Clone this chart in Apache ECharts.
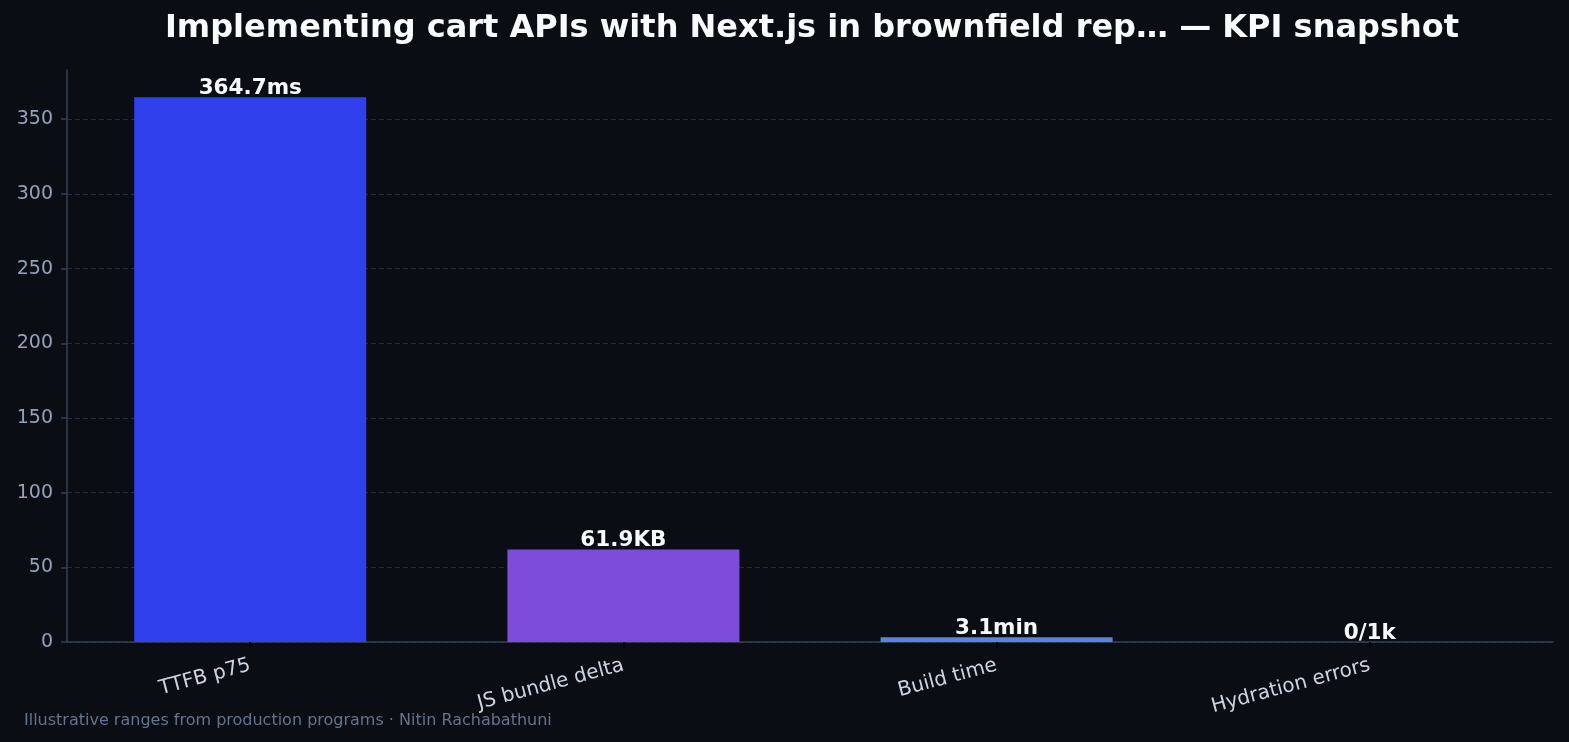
<!DOCTYPE html>
<html>
<head>
<meta charset="utf-8">
<script src="https://cdn.jsdelivr.net/npm/echarts@6/dist/echarts.min.js"></script>
<style>
  html, body { margin: 0; padding: 0; background: #0a0d14; }
  #chart { width: 1569px; height: 742px; }
</style>
</head>
<body>
<div id="chart"></div>
<script>
const categories = ["TTFB p75", "JS bundle delta", "Build time", "Hydration errors"];
const values = [364.7, 61.9, 3.1, 0];
const valueLabels = ["364.7ms", "61.9KB", "3.1min", "0/1k"];
const barColors = ["#2f40ec", "#7c4ddb", "#5a84e0", "#1ec8a0"];
const yTicks = [0, 50, 100, 150, 200, 250, 300, 350];

const chart = echarts.init(document.getElementById("chart"));
const font = "DejaVu Sans";

chart.setOption({
  backgroundColor: "#0a0d14",
  animation: false,
  title: [
    {
      text: "Implementing cart APIs with Next.js in brownfield rep… — KPI snapshot",
      left: 812,
      top: 13,
      padding: 0,
      textAlign: "center",
      textStyle: { color: "#f8fafc", fontSize: 32, fontWeight: "bold", fontFamily: font },
    },
    {
      text: "Illustrative ranges from production programs · Nitin Rachabathuni",
      left: 24,
      top: 713,
      padding: 0,
      textStyle: { color: "#64748b", fontSize: 16, fontWeight: "normal", fontFamily: font },
    },
  ],
  grid: { left: 67, right: 16, top: 70, bottom: 100 },
  xAxis: {
    type: "value",
    min: -0.491,
    max: 3.491,
    splitLine: { show: false },
    axisLine: { show: true, onZero: false, lineStyle: { color: "#334155", width: 1.5 } },
    axisTick: { show: true, length: 6, customValues: [0, 1, 2, 3], lineStyle: { color: "#000", width: 1.5 } },
    axisLabel: {
      customValues: [0, 1, 2, 3],
      rotate: 15,
      margin: 23,
      color: "#cbd5e1",
      fontSize: 20,
      fontFamily: font,
      formatter: (v) => categories[Math.round(v)] || "",
    },
  },
  yAxis: {
    type: "value",
    min: 0,
    max: 382.935,
    axisLine: { show: true, onZero: false, lineStyle: { color: "#334155", width: 1.5 } },
    axisTick: { show: true, length: 6, customValues: yTicks, lineStyle: { color: "#334155", width: 1.5 } },
    axisLabel: {
      customValues: yTicks,
      color: "#94a3b8",
      fontSize: 19,
      fontFamily: font,
      margin: 14,
    },
    splitLine: {
      show: true,
      lineStyle: { color: "#232d3d", type: [5, 3], width: 1.2 },
    },
  },
  series: [
    {
      type: "bar",
      barWidth: 232,
      data: values.map((v, i) => ({
        value: [i, v],
        itemStyle: { color: barColors[i] },
        label: { formatter: valueLabels[i] },
      })),
      label: {
        show: true,
        position: "top",
        distance: -2,
        color: "#f8fafc",
        fontSize: 21.5,
        fontWeight: "bold",
        fontFamily: font,
      },
    },
  ],
});
</script>
</body>
</html>
